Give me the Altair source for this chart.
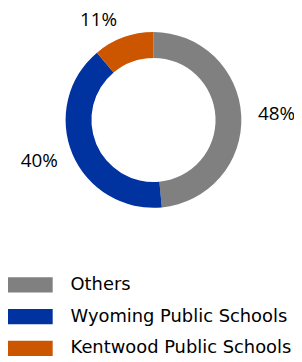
import altair as alt
import pandas as pd

categories = ["Others", "Wyoming Public Schools", "Kentwood Public Schools"]
values = [48, 40, 11]
labels = ["48%", "40%", "11%"]
colors = ["#808080", "#0033A0", "#CC5500"]
order = [0, 1, 2]

df = pd.DataFrame({"category": categories, "value": values, "label": labels, "order": order})

LEGEND_FONT = "DejaVu Sans"
LABEL_FONT = "Open Sans"
CX, CY = 146.5, 111.5

base = alt.Chart(df).encode(
    theta=alt.Theta("value:Q", stack=True),
    order=alt.Order("order:Q"),
)

arc = base.mark_arc(outerRadius=88.5, innerRadius=62.5, x=CX, y=CY).encode(
    color=alt.Color(
        "category:N",
        sort=categories,
        scale=alt.Scale(domain=categories, range=colors),
        legend=alt.Legend(
            title=None,
            orient="none",
            legendX=0,
            legendY=255,
            symbolType="M-1,-0.34L1,-0.34L1,0.34L-1,0.34Z",
            symbolSize=2025,
            symbolStrokeWidth=0,
            symbolOpacity=1,
            labelFont=LEGEND_FONT,
            labelFontSize=18,
            labelColor="#000000",
            labelOffset=18,
            rowPadding=-1,
            labelLimit=300,
        ),
    )
)


def label_layer(cat, radius, dx=0, dy=0):
    return base.mark_text(
        radius=radius, x=CX, y=CY, dx=dx, dy=dy,
        font=LABEL_FONT, fontSize=19, color="#000000",
    ).encode(
        text=alt.condition(alt.datum.category == cat, alt.Text("label:N"), alt.value(""))
    )


chart = (
    alt.layer(
        arc,
        label_layer(categories[0], 124),
        label_layer(categories[1], 122, dx=-2.5, dy=-6),
        label_layer(categories[2], 109, dx=-18, dy=1.5),
    )
    .properties(width=288, height=354, padding=0, autosize=alt.AutoSizeParams(type="none"))
    .configure_view(stroke=None)
)

chart.save("out.html", embed_options={"renderer": "svg", "actions": False})
